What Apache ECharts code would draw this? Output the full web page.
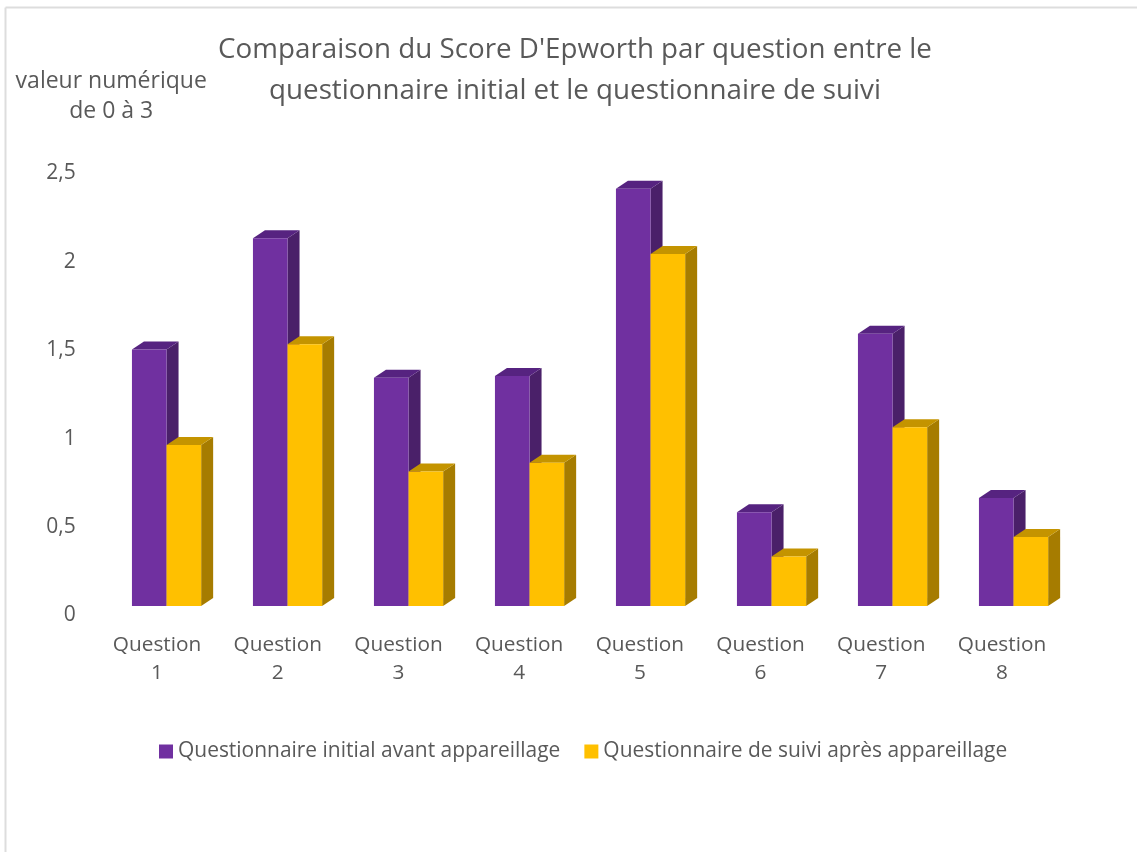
<!DOCTYPE html>
<html><head><meta charset="utf-8">
<script src="https://cdn.jsdelivr.net/npm/echarts@6/dist/echarts.min.js"></script>
<style>html,body{margin:0;padding:0;background:#fff}#c{width:1137px;height:852px}</style>
</head><body><div id="c"></div>
<script>
const categories = ['Question\n1','Question\n2','Question\n3','Question\n4','Question\n5','Question\n6','Question\n7','Question\n8'];
const initialValues = [1.49,2.12,1.33,1.34,2.40,0.57,1.58,0.65];
const followValues = [0.95,1.52,0.80,0.85,2.03,0.32,1.05,0.43];
const yTicks = {0:'0',0.5:'0,5',1:'1',1.5:'1,5',2:'2',2.5:'2,5'};
const nameInitial = 'Questionnaire initial avant appareillage';
const nameFollow = 'Questionnaire de suivi après appareillage';
const FONT = '"Open Sans", sans-serif';
const TXT = '#595959';

function bar3d(offsetStart, front, top, side) {
  return function (params, api) {
    const c = api.coord([api.value(0), api.value(1)]);
    const base = api.coord([api.value(0), 0]);
    const W = 34.6, DX = 12, DY = 8, LIFT = 7, SHIFT = 9.5 + 0.3 * params.dataIndex;
    const x0 = c[0] + SHIFT + offsetStart * W;
    const x1 = x0 + W;
    const y0 = c[1];
    const y1 = base[1] - LIFT;
    return {
      type: 'group',
      children: [
        {type:'polygon', shape:{points:[[x1,y0],[x1+DX,y0-DY],[x1+DX,y1-DY],[x1,y1]]}, style:{fill:side}},
        {type:'polygon', shape:{points:[[x0,y0],[x0+DX,y0-DY],[x1+DX,y0-DY],[x1,y0]]}, style:{fill:top}},
        {type:'rect', shape:{x:x0,y:y0,width:W,height:y1-y0}, style:{fill:front}}
      ]
    };
  };
}

const chart = echarts.init(document.getElementById('c'), null, {renderer:'canvas'});
chart.setOption({
  animation:false,
  backgroundColor:'#fff',
  title:{
    text:"Comparaison du Score D'Epworth par question entre le\nquestionnaire initial et le questionnaire de suivi",
    left:570, top:25, textAlign:'center',
    textStyle:{fontFamily:FONT,fontSize:27.75,fontWeight:'normal',color:TXT,lineHeight:41}
  },
  legend:{
    left:154, top:736, itemWidth:14, itemHeight:14, itemGap:24, icon:'rect',
    textStyle:{fontFamily:FONT,fontSize:20.95,color:TXT},
    data:[nameInitial,nameFollow]
  },
  grid:{left:96.7,right:74.7,top:171,bottom:239,containLabel:false,outerBoundsMode:'none'},
  xAxis:{
    type:'category',data:categories,
    axisLine:{show:false},axisTick:{show:false},
    axisLabel:{fontFamily:FONT,fontSize:20.8,color:TXT,lineHeight:28,margin:18,interval:0}
  },
  yAxis:{
    type:'value',min:0,max:2.5,interval:0.5,
    name:'valeur numérique\nde 0 à 3',nameLocation:'end',nameGap:45,
    nameTextStyle:{fontFamily:FONT,fontSize:23,color:TXT,lineHeight:30,align:'center',padding:[0,0,0,29]},
    splitLine:{show:false},axisLine:{show:false},axisTick:{show:false},
    axisLabel:{fontFamily:FONT,fontSize:21,color:TXT,margin:21,lineHeight:26,verticalAlign:'middle',
      formatter:v=>'{t|'+yTicks[v]+'}',rich:{t:{fontFamily:FONT,fontSize:21,color:TXT,padding:[5,0,0,0]}}}
  },
  series:[
    {name:nameInitial,type:'custom',data:initialValues.map((v,i)=>[i,v]),encode:{x:0,y:1},
     itemStyle:{color:'#7030A0'},renderItem:bar3d(-1,'#7030A0','#562380','#4A2069'),clip:false},
    {name:nameFollow,type:'custom',data:followValues.map((v,i)=>[i,v]),encode:{x:0,y:1},
     itemStyle:{color:'#FFC000'},renderItem:bar3d(0,'#FFC000','#C49400','#A67C00'),clip:false}
  ],
  graphic:[
    {type:'line',shape:{x1:5.5,y1:7.5,x2:1137,y2:7.5},style:{stroke:'#DDDDDD',lineWidth:2},silent:true},
    {type:'line',shape:{x1:5.5,y1:7.5,x2:5.5,y2:852},style:{stroke:'#DDDDDD',lineWidth:2},silent:true}
  ]
});
</script></body></html>
